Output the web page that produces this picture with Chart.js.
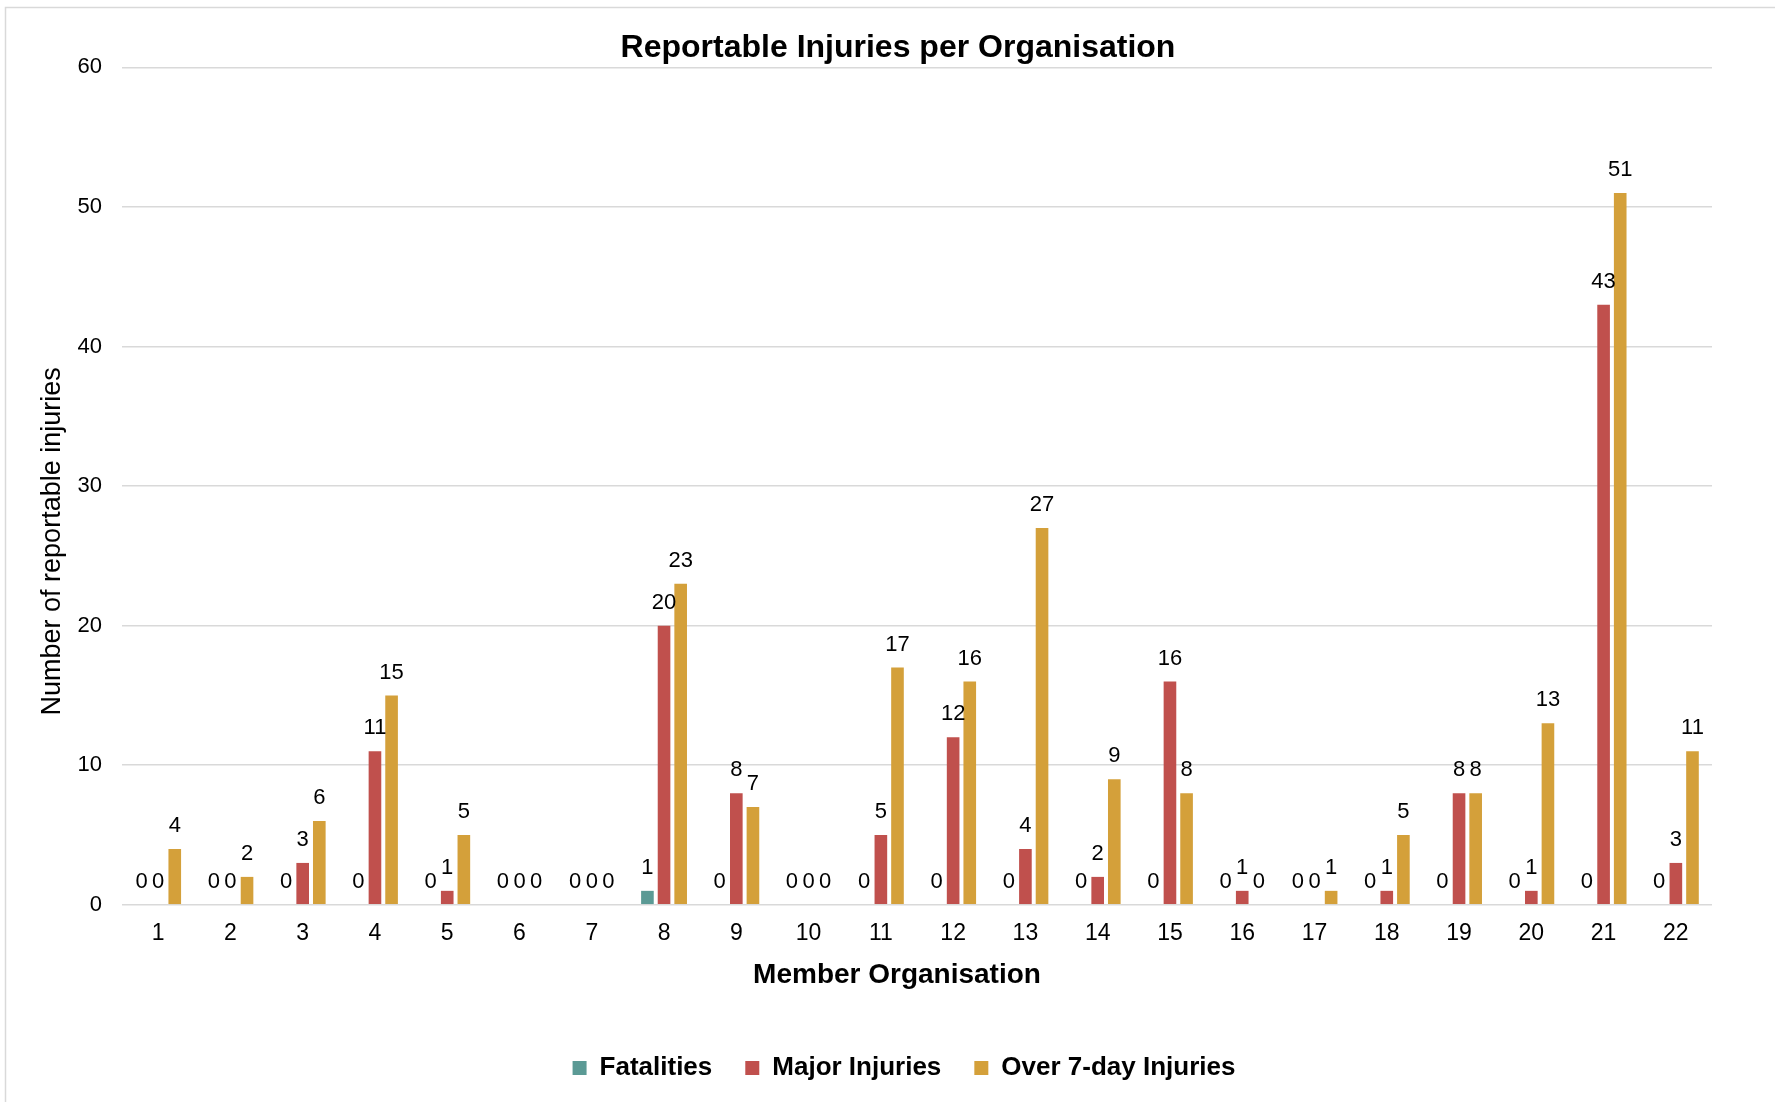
<!DOCTYPE html>
<html>
<head>
<meta charset="utf-8">
<title>Reportable Injuries per Organisation</title>
<script src="https://cdn.jsdelivr.net/npm/chart.js@4.4.1/dist/chart.umd.min.js"></script>
<style>
  html, body { margin: 0; padding: 0; background: #fff; }
  #wrap { width: 1775px; height: 1102px; }
</style>
</head>
<body>
<div id="wrap"><canvas id="injuriesChart" width="1775" height="1102"></canvas></div>
<script>
// chart data
const organisations = ['1', '2', '3', '4', '5', '6', '7', '8', '9', '10', '11',
    '12', '13', '14', '15', '16', '17', '18', '19', '20', '21', '22'];
const fatalities = [0, 0, 0, 0, 0, 0, 0, 1, 0, 0, 0, 0, 0, 0, 0, 0, 0, 0, 0, 0, 0, 0];
const majorInjuries = [0, 0, 3, 11, 1, 0, 0, 20, 8, 0, 5, 12, 4, 2, 16, 1, 0, 1, 8, 1, 43, 3];
const over7DayInjuries = [4, 2, 6, 15, 5, 0, 0, 23, 7, 0, 17, 16, 27, 9, 8, 0, 1, 5, 8, 13, 51, 11];
const yTicks = [0, 10, 20, 30, 40, 50, 60];
const yAxisTitle = 'Number of reportable injuries';

const FONT = '"Liberation Sans", Arial, sans-serif';

// draws the value above every bar, like excel data labels
const valueLabels = {
    id: 'valueLabels',
    afterDatasetsDraw(chart) {
        const ctx = chart.ctx;
        ctx.save();
        ctx.font = '22px ' + FONT;
        ctx.fillStyle = '#000';
        ctx.textAlign = 'center';
        ctx.textBaseline = 'middle';
        chart.data.datasets.forEach((ds, i) => {
            const meta = chart.getDatasetMeta(i);
            meta.data.forEach((bar, j) => {
                ctx.fillText(String(ds.data[j]), bar.x, bar.y - 23);
            });
        });
        ctx.restore();
    }
};

// thin grey frame round the chart + the y axis title (excel puts it a bit low)
const frame = {
    id: 'frame',
    afterLayout(chart) {
        // let the y tick labels use the space left of the narrow axis box
        chart.scales.y.left = 20;
        // x title and legend are a little off-centre in the original
        chart.scales.x.left -= 20;
        chart.scales.x.right -= 20;
        chart.legend.left += 6;
        chart.legend.right += 6;
    },
    beforeDraw(chart) {
        const ctx = chart.ctx;
        ctx.save();
        ctx.strokeStyle = '#d9d9d9';
        ctx.lineWidth = 1.5;
        ctx.strokeRect(5.5, 7.5, chart.width + 10, chart.height + 10);
        ctx.restore();
    },
    afterDraw(chart) {
        const ctx = chart.ctx;
        const area = chart.chartArea;
        ctx.save();
        ctx.translate(53, area.top + (area.bottom - area.top) * 0.566);
        ctx.rotate(-Math.PI / 2);
        ctx.font = '27px ' + FONT;
        ctx.fillStyle = '#000';
        ctx.textAlign = 'center';
        ctx.textBaseline = 'middle';
        ctx.fillText(yAxisTitle, 0, 0);
        ctx.restore();
    }
};

const ctx = document.getElementById('injuriesChart').getContext('2d');

new Chart(ctx, {
    type: 'bar',
    data: {
        labels: organisations,
        datasets: [{
            label: 'Fatalities',
            data: fatalities,
            backgroundColor: '#5B9A95'
        }, {
            label: 'Major Injuries',
            data: majorInjuries,
            backgroundColor: '#C0504D'
        }, {
            label: 'Over 7-day Injuries',
            data: over7DayInjuries,
            backgroundColor: '#D4A03A'
        }]
    },
    options: {
        responsive: false,
        animation: false,
        layout: {
            padding: { left: 84, right: 63, top: 20, bottom: 11 }
        },
        datasets: {
            bar: {
                categoryPercentage: 0.69,
                barPercentage: 0.76,
                clip: false
            }
        },
        plugins: {
            title: {
                display: true,
                text: 'Reportable Injuries per Organisation',
                color: '#000',
                font: { family: FONT, size: 32, weight: 'bold' },
                padding: { top: 9, bottom: 0 }
            },
            legend: {
                position: 'bottom',
                labels: {
                    color: '#000',
                    font: { family: FONT, size: 26, weight: 'bold' },
                    boxWidth: 14,
                    boxHeight: 14,
                    padding: 33
                }
            },
            tooltip: { enabled: false }
        },
        scales: {
            x: {
                grid: { display: false, drawTicks: false },
                border: { display: false },
                ticks: {
                    color: '#000',
                    font: { family: FONT, size: 23 },
                    padding: 15
                },
                title: {
                    display: true,
                    text: 'Member Organisation',
                    color: '#000',
                    font: { family: FONT, size: 28, weight: 'bold' },
                    padding: { top: -4, bottom: 30 }
                }
            },
            y: {
                min: yTicks[0],
                max: yTicks[yTicks.length - 1],
                afterBuildTicks: axis => {
                    axis.ticks = yTicks.map(v => ({ value: v }));
                },
                afterFit: axis => {
                    axis.width = 38;
                },
                grid: { color: '#d9d9d9', lineWidth: 1.5, drawTicks: false },
                border: { display: false },
                ticks: {
                    color: '#000',
                    font: { family: FONT, size: 22 },
                    padding: 20
                }
            }
        }
    },
    plugins: [frame, valueLabels]
});
</script>
</body>
</html>
